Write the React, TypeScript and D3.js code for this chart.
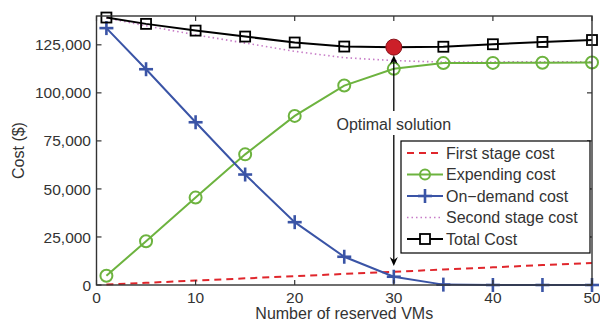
import React from "react";
import * as d3 from "d3";

// reserved VMs (x)
const vms = [1, 5, 10, 15, 20, 25, 30, 35, 40, 45, 50];

// series values ($)
const firstStage = [230, 1150, 2300, 3450, 4600, 5750, 6900, 8050, 9200, 10350, 11500];
const expending = [4850, 22750, 45500, 68000, 88000, 103800, 112500, 115500, 115600, 115700, 115800];
const onDemand = [133700, 112300, 84700, 57500, 32700, 14700, 4300, 200, 0, 0, 0];
const secondStage = [139000, 134900, 130200, 125900, 121600, 118300, 116800, 116000, 116100, 116200, 116100];
const totalCost = [139200, 135900, 132400, 129300, 126200, 124100, 123800, 124000, 125300, 126500, 127500];

const xTicks = [0, 10, 20, 30, 40, 50];
const yTicks = [0, 25000, 50000, 75000, 100000, 125000];

const legendLabels = [
  "First stage cost",
  "Expending cost",
  "On\u2212demand cost",
  "Second stage cost",
  "Total Cost",
];

const optimalX = 30;

const W = 600;
const H = 322;
const margin = { top: 16, right: 8, bottom: 37, left: 96.5 };

const FONT = "'Liberation Sans', Arial, Helvetica, sans-serif";
const TXT = "#333";

const GREEN = "#6db33f";
const BLUE = "#3a54a6";
const RED = "#e0262c";
const PINK = "#c77cc7";

const App: React.FC = () => {
  const x = d3
    .scaleLinear()
    .domain([0, 50])
    .range([margin.left, W - margin.right]);
  const y = d3
    .scaleLinear()
    .domain([0, 140000])
    .range([H - margin.bottom, margin.top]);

  const line = (vals: number[]) =>
    d3
      .line<number>()
      .x((_, i) => x(vms[i]))
      .y((d) => y(d))(vals) as string;

  const x0 = x.range()[0];
  const x1 = x.range()[1];
  const y0 = y.range()[0];
  const y1 = y.range()[1];
  const tick = 5;

  const optIdx = vms.indexOf(optimalX);
  const ox = x(optimalX);
  const oy = y(totalCost[optIdx]);
  const arrowTop = oy + 8;
  const arrowBottom = 266;

  const fmt = d3.format(",");

  // legend geometry
  const lg = { x: 401, y: 141, w: 189, h: 112, row: 21.5 };

  const plusMark = (cx: number, cy: number, k: string, c: string) => (
    <g key={k} stroke={c} strokeWidth={2.6}>
      <line x1={cx - 7} x2={cx + 7} y1={cy} y2={cy} />
      <line x1={cx} x2={cx} y1={cy - 7} y2={cy + 7} />
    </g>
  );

  return (
    <div style={{ position: "absolute", left: 0, top: 0 }}>
      <svg width={W} height={H} style={{ display: "block", background: "#fff" }}>
        {/* series lines */}
        <path d={line(secondStage)} fill="none" stroke={PINK} strokeWidth={1.6} strokeDasharray="1.5 3" />
        <path d={line(firstStage)} fill="none" stroke={RED} strokeWidth={2} strokeDasharray="7 5" />
        <path d={line(expending)} fill="none" stroke={GREEN} strokeWidth={2} />
        {expending.map((v, i) => (
          <circle key={"e" + i} cx={x(vms[i])} cy={y(v)} r={6} fill="none" stroke={GREEN} strokeWidth={2} />
        ))}
        <path d={line(onDemand)} fill="none" stroke={BLUE} strokeWidth={2} />
        {onDemand.map((v, i) => plusMark(x(vms[i]), y(v), "o" + i, BLUE))}
        <path d={line(totalCost)} fill="none" stroke="#000" strokeWidth={2} />
        {totalCost.map((v, i) => (
          <rect
            key={"t" + i}
            x={x(vms[i]) - 5}
            y={y(v) - 5}
            width={10}
            height={10}
            fill="none"
            stroke="#000"
            strokeWidth={1.8}
          />
        ))}

        {/* optimal point */}
        <circle cx={ox} cy={oy} r={8} fill="#cc1f29" stroke="#8a1018" strokeWidth={1} />

        {/* annotation arrow */}
        <g stroke="#000" strokeWidth={1.3}>
          <line x1={ox} x2={ox} y1={arrowTop + 6} y2={111} />
          <line x1={ox} x2={ox} y1={135} y2={arrowBottom - 6} />
        </g>
        <path d={`M${ox},${arrowTop} L${ox - 4},${arrowTop + 9} L${ox},${arrowTop + 6} L${ox + 4},${arrowTop + 9} Z`} fill="#000" />
        <path
          d={`M${ox},${arrowBottom} L${ox - 4},${arrowBottom - 9} L${ox},${arrowBottom - 6} L${ox + 4},${arrowBottom - 9} Z`}
          fill="#000"
        />
        <text x={ox} y={130} textAnchor="middle" fontFamily={FONT} fontSize={16} fill={TXT}>
          Optimal solution
        </text>

        {/* axes box */}
        <rect x={x0} y={y1} width={x1 - x0} height={y0 - y1} fill="none" stroke="#333" strokeWidth={1.4} />
        {xTicks.map((t) => (
          <g key={"xt" + t} stroke="#333" strokeWidth={1.2}>
            <line x1={x(t)} x2={x(t)} y1={y0} y2={y0 - tick} />
            <line x1={x(t)} x2={x(t)} y1={y1} y2={y1 + tick} />
          </g>
        ))}
        {yTicks.map((t) => (
          <g key={"yt" + t} stroke="#333" strokeWidth={1.2}>
            <line x1={x0} x2={x0 + tick} y1={y(t)} y2={y(t)} />
            <line x1={x1} x2={x1 - tick} y1={y(t)} y2={y(t)} />
          </g>
        ))}
        {xTicks.map((t) => (
          <text key={"xl" + t} x={x(t)} y={303} textAnchor="middle" fontFamily={FONT} fontSize={15.5} fill={TXT}>
            {t}
          </text>
        ))}
        {yTicks.map((t) => (
          <text
            key={"yl" + t}
            x={91}
            y={y(t)}
            dy="0.36em"
            textAnchor="end"
            fontFamily={FONT}
            fontSize={15.5}
            fill={TXT}
          >
            {fmt(t)}
          </text>
        ))}
        <text x={(x0 + x1) / 2} y={319} textAnchor="middle" fontFamily={FONT} fontSize={16} fill={TXT}>
          Number of reserved VMs
        </text>
        <text
          transform={`translate(24,${(y0 + y1) / 2}) rotate(-90)`}
          textAnchor="middle"
          fontFamily={FONT}
          fontSize={16}
          fill={TXT}
        >
          Cost ($)
        </text>

        {/* legend */}
        <rect x={lg.x} y={lg.y} width={lg.w} height={lg.h} fill="#fff" stroke="#000" strokeWidth={1.2} />
        {legendLabels.map((lab, i) => {
          const ry = lg.y + 12 + i * lg.row;
          const lx0 = lg.x + 6;
          const lx1 = lg.x + 42;
          const mx = (lx0 + lx1) / 2;
          return (
            <g key={"lg" + i}>
              {i === 0 && <line x1={lx0} x2={lx1} y1={ry} y2={ry} stroke={RED} strokeWidth={2} strokeDasharray="7 5" />}
              {i === 1 && (
                <g>
                  <line x1={lx0} x2={lx1} y1={ry} y2={ry} stroke={GREEN} strokeWidth={2} />
                  <circle cx={mx} cy={ry} r={5} fill="none" stroke={GREEN} strokeWidth={2} />
                </g>
              )}
              {i === 2 && (
                <g>
                  <line x1={lx0} x2={lx1} y1={ry} y2={ry} stroke={BLUE} strokeWidth={2} />
                  {plusMark(mx, ry, "lp", BLUE)}
                </g>
              )}
              {i === 3 && (
                <line x1={lx0} x2={lx1} y1={ry} y2={ry} stroke={PINK} strokeWidth={1.6} strokeDasharray="1.5 3" />
              )}
              {i === 4 && (
                <g>
                  <line x1={lx0} x2={lx1} y1={ry} y2={ry} stroke="#000" strokeWidth={2} />
                  <rect x={mx - 5} y={ry - 5} width={10} height={10} fill="#fff" stroke="#000" strokeWidth={1.8} />
                </g>
              )}
              <text x={lg.x + 45} y={ry} dy="0.36em" fontFamily={FONT} fontSize={16} fill={TXT}>
                {lab}
              </text>
            </g>
          );
        })}
      </svg>
    </div>
  );
};

export default App;
